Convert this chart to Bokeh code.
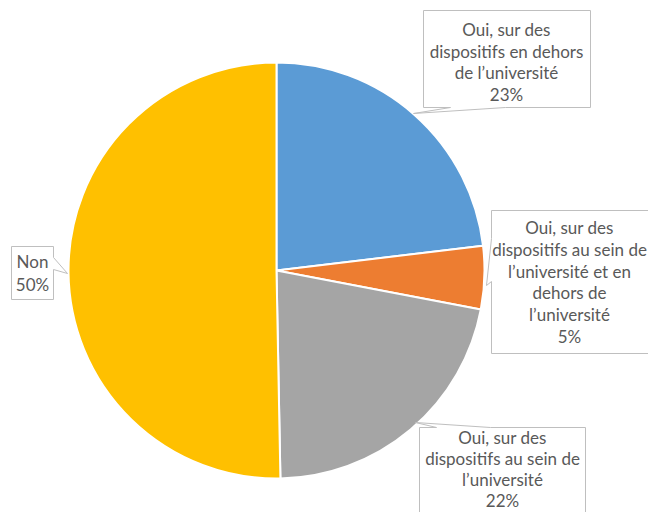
import math
from bokeh.plotting import figure
from bokeh.models import Range1d
from bokeh.core.properties import value
from bokeh.embed import file_html
from bokeh.resources import INLINE

# ---- data ----
categories = [
    "Oui, sur des\ndispositifs en dehors\nde l\u2019universit\u00e9",
    "Oui, sur des\ndispositifs au sein de\nl\u2019universit\u00e9 et en\ndehors de\nl\u2019universit\u00e9",
    "Oui, sur des\ndispositifs au sein de\nl\u2019universit\u00e9",
    "Non",
]
shares = [23.1, 4.9, 21.7, 50.3]
colors = ["#5B9BD5", "#ED7D31", "#A5A5A5", "#FFC000"]

W, H = 648, 512

def X(sx):
    return sx

def Y(sy):
    return H - sy

p = figure(width=W, height=H, output_backend="svg", toolbar_location=None,
           x_range=Range1d(0, W), y_range=Range1d(0, H), min_border=0)
p.axis.visible = False
p.grid.visible = False
p.outline_line_color = None
p.background_fill_color = "white"

# ---- pie ----
cx, cy, R = X(276), Y(270), 208
total = sum(shares)
starts, ends = [], []
cum = 0.0
for v in shares:
    a0 = math.pi / 2 - 2 * math.pi * cum / total
    cum += v
    a1 = math.pi / 2 - 2 * math.pi * cum / total
    starts.append(a1)
    ends.append(a0)
p.wedge(x=[cx] * len(shares), y=[cy] * len(shares), radius=R,
        start_angle=starts, end_angle=ends, fill_color=colors,
        line_color="white", line_width=2)

# ---- callouts (pixel outlines) ----
callouts = [
    [(423, 10), (590, 10), (590, 107), (505, 107), (413, 113), (450, 107), (423, 107)],
    [(491, 210), (660, 210), (660, 353), (491, 353), (491, 281), (486, 285), (491, 238)],
    [(419, 427), (436, 427), (415, 422), (490, 427), (585, 427), (585, 560), (419, 560)],
    [(11, 246), (53, 246), (53, 257), (67, 273), (53, 269), (53, 299), (11, 299)],
]
p.patches(xs=[[X(a) for a, b in c] for c in callouts],
          ys=[[Y(b) for a, b in c] for c in callouts],
          fill_color="white", line_color="#BFBFBF", line_width=1)

# label text centres (px) and line spacing
centres = [(506, 29), (569, 227), (502, 437), (32, 261)]
spacing = [21.5, 21.8, 21, 23]
tx, ty, tt = [], [], []
for lab, v, (sx, sy), sp in zip(categories, shares, centres, spacing):
    lines = lab.split("\n") + ["%d%%" % round(v)]
    for i, line in enumerate(lines):
        tx.append(X(sx))
        ty.append(Y(sy + i * sp))
        tt.append(line)
p.text(x=tx, y=ty, text=tt, text_align="center", text_baseline="middle",
       text_font=value("Lato"), text_font_size="17px", text_color="#595959")

open("out.html", "w").write(file_html(p, INLINE))
